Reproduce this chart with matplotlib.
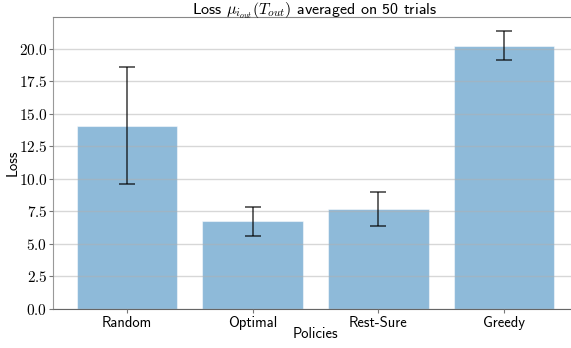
import numpy as np
import matplotlib
matplotlib.use("Agg")
import matplotlib.pyplot as plt
from matplotlib.ticker import FuncFormatter, MultipleLocator

policies = ["Random", "Optimal", "Rest-Sure", "Greedy"]
loss_mean = [14.1, 6.75, 7.72, 20.25]
loss_err = [4.5, 1.1, 1.3, 1.1]

plt.rcParams['font.family'] = ['cmss10', 'DejaVu Sans']
plt.rcParams['mathtext.fontset'] = 'cm'
plt.rcParams['axes.unicode_minus'] = False

fig = plt.figure(figsize=(5.71, 3.48), dpi=100)
ax = fig.add_axes([53 / 571, 1 - 309 / 348, 525 / 571, 292 / 348])

x = np.arange(len(policies))
ax.bar(x, loss_mean, width=0.8, color="#1f77b4", alpha=0.5,
       edgecolor="white", linewidth=0.8, zorder=1)
ax.errorbar(x, loss_mean, yerr=loss_err, fmt="none", ecolor="black",
            alpha=0.7, capsize=6, elinewidth=1.2, capthick=1.2, zorder=3)

ax.set_axisbelow(False)
ax.yaxis.grid(True, color="#b0b0b0", alpha=0.5, linewidth=1.0, zorder=2)
ax.xaxis.grid(False)

ax.set_xlim(-0.59, 3.59)
ax.set_ylim(0, 22.46)
ax.yaxis.set_major_locator(MultipleLocator(2.5))
ax.yaxis.set_major_formatter(FuncFormatter(lambda v, p: r"$%.1f$" % v))
ax.set_xticks(x)
ax.set_xticklabels(policies)

ax.spines["left"].set_color("#999999")
ax.spines["bottom"].set_color("#666666")
ax.spines["top"].set_color("#888888")
ax.spines["right"].set_visible(False)
ax.tick_params(axis="both", colors="#777777", labelcolor="black",
               length=3, width=0.8)
ax.tick_params(axis="x", labelsize=10.5, pad=2)
ax.tick_params(axis="y", labelsize=11, pad=1)

ax.set_xlabel("Policies", fontsize=10.5)
ax.set_ylabel("Loss", fontsize=10.5)
ax.xaxis.set_label_coords(0.5, -(327 - 309) / 292)
ax.yaxis.set_label_coords(-(53 - 20) / 525, 0.5)

# title placed by hand so it sits just above the top spine
fig.text(315 / 571, 1 - 14 / 348,
         r"Loss $\mu_{i_{out}}(T_{out})$ averaged on 50 trials",
         fontsize=11.5, ha="center", va="baseline")

fig.savefig("out.png", dpi=100)
